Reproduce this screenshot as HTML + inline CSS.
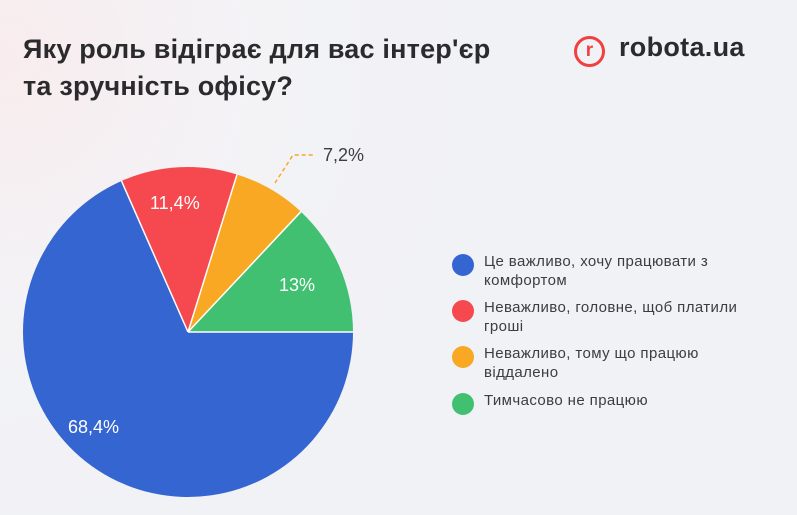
<!DOCTYPE html>
<html><head><meta charset="utf-8"><style>
body{margin:0;width:797px;height:515px;overflow:hidden;font-family:"Liberation Sans",sans-serif;}
.bg{position:absolute;left:0;top:0;width:797px;height:515px;background:radial-gradient(circle at 0px 60px,#f8ecee 0,#f3f3f6 260px,#f1f2f6 500px);}
.t{position:absolute;left:23px;top:31px;font-size:27px;font-weight:bold;color:#2b2b2e;line-height:37px;letter-spacing:0.2px}
.lg{position:absolute;left:454px;font-size:15px;color:#3c3c44;line-height:19px;letter-spacing:0.4px}
.dot{position:absolute;left:-2px;top:2px;width:22px;height:22px;border-radius:50%}
.lg span{display:block;margin-left:30px}
</style></head><body>
<div class="bg"></div>
<div class="t">Яку роль відіграє для вас інтер'єр<br>та зручність офісу?</div>
<div style="position:absolute;left:574px;top:36px;width:31px;height:31px;border:3px solid #f0403f;border-radius:50%;box-sizing:border-box;color:#f0403f;font-weight:bold;font-size:19px;text-align:center;line-height:24px">r</div>
<div style="position:absolute;left:619px;top:32px;font-size:27px;font-weight:bold;color:#2b2b2e;letter-spacing:0.3px">robota.ua</div>
<svg width="797" height="515" style="position:absolute;left:0;top:0">
<path d="M188 332 L121.5 181 A165 165 0 1 0 353 332 Z" fill="#3465d0"/>
<path d="M188 332 L353 332 A165 165 0 0 0 300.9 211.7 Z" fill="#40c070"/>
<path d="M188 332 L300.9 211.7 A165 165 0 0 0 237 174.5 Z" fill="#f8a823"/>
<path d="M188 332 L237 174.5 A165 165 0 0 0 121.5 181 Z" fill="#f5494f"/>
<g stroke="#fff" stroke-width="1.5"><line x1="188" y1="332" x2="353" y2="332"/><line x1="188" y1="332" x2="300.9" y2="211.7"/><line x1="188" y1="332" x2="237" y2="174.5"/><line x1="188" y1="332" x2="121.5" y2="181"/></g>
<path d="M275 183 L293 155 L315 155" fill="none" stroke="#f8a823" stroke-width="1.5" stroke-dasharray="4 3"/>
<g font-family="Liberation Sans" font-size="18" fill="#fff">
<text x="68" y="433">68,4%</text><text x="150" y="209">11,4%</text><text x="279" y="291">13%</text></g>
<text x="323" y="161" font-family="Liberation Sans" font-size="18" fill="#3c3c44">7,2%</text>
</svg>
<div class="lg" style="top:252px"><div class="dot" style="background:#3465d0"></div><span>Це важливо, хочу працювати з<br>комфортом</span></div>
<div class="lg" style="top:298px"><div class="dot" style="background:#f5494f"></div><span>Неважливо, головне, щоб платили<br>гроші</span></div>
<div class="lg" style="top:344px"><div class="dot" style="background:#f8a823"></div><span>Неважливо, тому що працюю<br>віддалено</span></div>
<div class="lg" style="top:391px"><div class="dot" style="background:#40c070"></div><span>Тимчасово не працюю</span></div>
</body></html>
